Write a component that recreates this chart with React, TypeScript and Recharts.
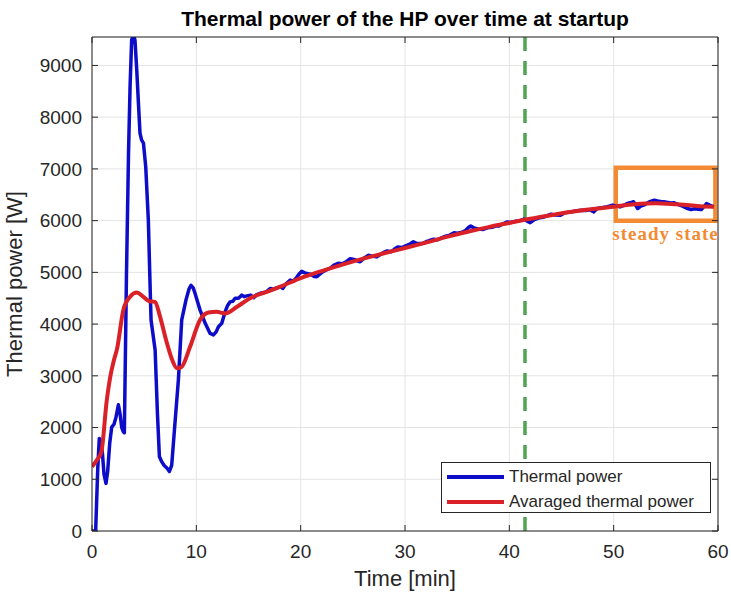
import React from 'react';
import {
  LineChart,
  Line,
  XAxis,
  YAxis,
  CartesianGrid,
  ReferenceLine,
  ReferenceArea,
  Legend,
} from 'recharts';

// Measured thermal power of the heat pump (time in min, power in W)
const thermalTime = [
  0, 0.35, 0.55, 0.7, 0.85, 1.0, 1.15, 1.34, 1.5, 1.7, 1.89, 2.1, 2.3, 2.53, 2.7, 2.85, 3.0, 3.1,
  3.3, 3.5, 3.65, 3.8, 3.88, 3.96, 4.05, 4.12, 4.29, 4.45, 4.6, 4.75, 4.93, 5.15, 5.4, 5.57, 5.66,
  6.05, 6.27, 6.46, 6.68, 6.9, 7.22, 7.42, 7.64, 7.9, 8.28, 8.6, 9.0, 9.3, 9.49, 9.7, 9.88, 10.36,
  10.84, 11.32, 11.64, 11.9, 12.12, 12.44, 12.76, 13.0, 13.24, 13.5, 13.72, 14.04, 14.36, 14.6,
  14.84, 15.2, 15.5, 15.8, 16.12, 16.5, 16.76, 17.1, 17.4, 17.7, 18.04, 18.3, 18.6, 19.0, 19.3,
  19.6, 19.9, 20.1, 20.4, 20.7, 21.0, 21.3, 21.55, 21.8, 22.1, 22.5, 22.9, 23.2, 23.6, 24.0, 24.4,
  24.75, 25.1, 25.4, 25.7, 26.1, 26.5, 26.9, 27.3, 27.7, 28.0, 28.3, 28.7, 29.0, 29.3, 29.7, 30.0,
  30.4, 30.8, 31.1, 31.5, 31.8, 32.1, 32.4, 32.75, 33.1, 33.5, 33.9, 34.3, 34.7, 35.0, 35.4, 35.8,
  36.1, 36.3, 36.6, 37.0, 37.5, 37.9, 38.35, 38.7, 39.0, 39.4, 39.8, 40.2, 40.6, 41.06, 41.4, 41.7,
  42.0, 42.4, 42.8, 43.2, 43.6, 44.0, 44.4, 44.9, 45.3, 45.7, 46.1, 46.5, 46.9, 47.3, 47.7, 48.1,
  48.4, 48.7, 49.0, 49.4, 49.9, 50.3, 50.6, 50.9, 51.3, 51.6, 51.9, 52.1, 52.3, 52.6, 53.0, 53.4,
  53.9, 54.2, 54.5, 54.8, 55.2, 55.5, 55.8, 56.2, 56.6, 57.0, 57.4, 57.8, 58.1, 58.4, 58.7, 58.9,
  59.2, 59.6,
];
const thermalPower = [
  0, 0, 1200, 1790, 1760, 1500, 1100, 920, 1150, 1700, 2010, 2060, 2200, 2440, 2250, 2000, 1920, 1900,
  4900, 7300, 8600, 9490, 9540, 9450, 9540, 9490, 8910, 8270, 7690, 7560, 7500, 7040, 6010, 4720, 4080,
  3500, 2280, 1440, 1340, 1270, 1210, 1150, 1275, 1950, 2920, 4080, 4460, 4680, 4750, 4700, 4590, 4270,
  4020, 3820, 3790, 3850, 3950, 4015, 4240, 4360, 4430, 4440, 4500, 4500, 4560, 4530,
  4545, 4560, 4510, 4570, 4595, 4610, 4635, 4690, 4670, 4700, 4720, 4690, 4780, 4850, 4830,
  4900, 4980, 5020, 4990, 4975, 4960, 4920, 4915, 4960, 5010, 5050, 5090, 5140, 5175, 5165, 5210,
  5265, 5250, 5225, 5205, 5280, 5330, 5310, 5300, 5355, 5390, 5415, 5400, 5450, 5490, 5480, 5505,
  5540, 5590, 5560, 5560, 5565, 5600, 5620, 5640, 5630, 5665, 5700, 5720, 5765, 5755, 5770, 5810,
  5870, 5895, 5860, 5840, 5830, 5860, 5870, 5900, 5895, 5940, 5975, 5965, 5990, 6000, 6030, 5990,
  5960, 6020, 6050, 6065, 6090, 6125, 6110, 6105, 6150, 6160, 6175, 6190, 6200, 6195, 6210, 6170,
  6235, 6245, 6255, 6270, 6300, 6280, 6265, 6290, 6330, 6345, 6365, 6300, 6235, 6280, 6310, 6360,
  6395, 6380, 6370, 6365, 6350, 6340, 6345, 6310, 6280, 6240, 6215, 6230, 6220, 6215, 6280, 6330,
  6300, 6268,
];

// Moving-average of the thermal power
const avgTime = [
  0, 0.5, 0.9, 1.4, 1.75, 2.1, 2.4, 3.0, 3.65, 4.3, 4.9, 5.5, 6.05, 6.5, 7.2, 7.7, 8.15, 8.6, 9.4,
  10.35, 11.15, 11.95, 12.75, 13.9, 15.15, 16.75, 18, 20, 22, 24, 26, 28, 30, 32, 34, 36, 38, 40,
  42, 44, 46, 48, 50, 52, 54, 56, 58, 59.6,
];
const avgPower = [
  1245, 1380, 1530, 2500, 2980, 3300, 3520, 4270, 4530, 4610, 4530, 4440, 4430, 4160, 3620, 3300,
  3145, 3175, 3560, 4080, 4225, 4240, 4205, 4335, 4500, 4625, 4720, 4890, 5025, 5150, 5265, 5370,
  5470, 5575, 5685, 5785, 5875, 5955, 6035, 6105, 6170, 6225, 6270, 6315, 6335, 6315, 6285, 6268,
];

const xTicks = [0, 10, 20, 30, 40, 50, 60];
const yTicks = [0, 1000, 2000, 3000, 4000, 5000, 6000, 7000, 8000, 9000];

const seriesNames = ['Thermal power', 'Avaraged thermal power'];
const seriesColors = ['#0c0cc9', '#da2128'];

// Steady-state window and steady-state start marker
const steadyStart = 41.5;
const steadyBox = { x1: 50.2, x2: 59.75, y1: 6000, y2: 7020 };

const thermalData = thermalTime.map((t, i) => ({ t, p: thermalPower[i] }));
const avgData = avgTime.map((t, i) => ({ t, p: avgPower[i] }));

const FONT = '"Liberation Sans", Arial, Helvetica, sans-serif';
const AXIS = '#262626';

const LegendBox = () => (
  <div
    style={{
      width: 270,
      height: 51,
      boxSizing: 'border-box',
      border: `1px solid ${AXIS}`,
      background: '#fff',
      fontFamily: FONT,
      fontSize: 17,
      color: AXIS,
      position: 'relative',
    }}
  >
    {seriesNames.map((name, i) => (
      <div
        key={name}
        style={{
          position: 'absolute',
          left: 5,
          top: 3 + i * 25,
          height: 22,
          display: 'flex',
          alignItems: 'center',
          whiteSpace: 'nowrap',
        }}
      >
        <svg width={57} height={6} style={{ display: 'block' }}>
          <line x1={0} y1={3} x2={57} y2={3} stroke={seriesColors[i]} strokeWidth={4} />
        </svg>
        <span style={{ marginLeft: 5, lineHeight: '22px' }}>{name}</span>
      </div>
    ))}
  </div>
);

const YLabel = () => {
  const cx = 22;
  const cy = 284;
  return (
    <text
      x={cx}
      y={cy}
      transform={`rotate(-90 ${cx} ${cy})`}
      textAnchor="middle"
      fontFamily={FONT}
      fontSize={22}
      fill={AXIS}
    >
      Thermal power [W]
    </text>
  );
};

const TitleLabel = (props: any) => {
  const vb = props.viewBox || { x: 92, y: 36, width: 626 };
  return (
    <text
      x={vb.x + vb.width / 2}
      y={26}
      textAnchor="middle"
      fontFamily={FONT}
      fontSize={21}
      fontWeight="bold"
      fill="#000"
    >
      Thermal power of the HP over time at startup
    </text>
  );
};

export default function App() {
  return (
    <div style={{ position: 'absolute', left: 0, top: 0, width: 731, height: 592, background: '#fff' }}>
      <LineChart
        width={731}
        height={592}
        margin={{ top: 36, right: 12, bottom: 0, left: 0 }}
        style={{ fontFamily: FONT }}
      >
        <CartesianGrid stroke="#e4e4e4" strokeWidth={1} />
        <XAxis
          dataKey="t"
          type="number"
          domain={[0, 60]}
          ticks={xTicks}
          interval={0}
          height={61}
          allowDataOverflow
          stroke={AXIS}
          tickSize={-6}
          tickMargin={20}
          tick={{ fill: AXIS, fontSize: 19, fontFamily: FONT }}
          label={{
            value: 'Time [min]',
            position: 'insideBottom',
            offset: 6,
            fill: AXIS,
            fontSize: 22,
            fontFamily: FONT,
          }}
        />
        <XAxis
          xAxisId="top"
          orientation="top"
          dataKey="t"
          type="number"
          domain={[0, 60]}
          ticks={xTicks}
          interval={0}
          height={1}
          allowDataOverflow
          stroke={AXIS}
          tickSize={-6}
          tickFormatter={() => ''}
          label={<TitleLabel />}
        />
        <YAxis
          type="number"
          domain={[0, 9550]}
          ticks={yTicks}
          interval={0}
          width={92}
          allowDataOverflow
          stroke={AXIS}
          tickSize={-6}
          tickMargin={16}
          tick={{ fill: AXIS, fontSize: 19, fontFamily: FONT }}
          label={<YLabel />}
        />
        <YAxis
          yAxisId="right"
          orientation="right"
          type="number"
          domain={[0, 9550]}
          ticks={yTicks}
          interval={0}
          width={1}
          allowDataOverflow
          stroke={AXIS}
          tickSize={-6}
          tickFormatter={() => ''}
        />
        <ReferenceLine
          x={steadyStart}
          stroke="#4ea64e"
          strokeWidth={3.5}
          strokeDasharray="14 10"
        />
        <Line
          data={thermalData}
          dataKey="p"
          name={seriesNames[0]}
          type="linear"
          stroke={seriesColors[0]}
          strokeWidth={3.5}
          strokeLinejoin="round"
          dot={false}
          isAnimationActive={false}
        />
        <Line
          data={avgData}
          dataKey="p"
          name={seriesNames[1]}
          type="monotone"
          stroke={seriesColors[1]}
          strokeWidth={4}
          strokeLinejoin="round"
          dot={false}
          isAnimationActive={false}
        />
        <ReferenceArea
          x1={steadyBox.x1}
          x2={steadyBox.x2}
          y1={steadyBox.y1}
          y2={steadyBox.y2}
          fill="none"
          fillOpacity={0}
          stroke="#f38b35"
          strokeWidth={4.5}
          label={{
            value: 'steady state',
            position: 'bottom',
            offset: 6,
            fill: '#f38b35',
            fontSize: 19,
            fontWeight: 'bold',
            fontFamily: '"Liberation Serif", "Times New Roman", serif',
            letterSpacing: 1,
          }}
        />
        <Legend
          layout="vertical"
          align="center"
          verticalAlign="middle"
          content={<LegendBox />}
          wrapperStyle={{ left: 441, top: 462, width: 270, height: 51 }}
        />
      </LineChart>
    </div>
  );
}
